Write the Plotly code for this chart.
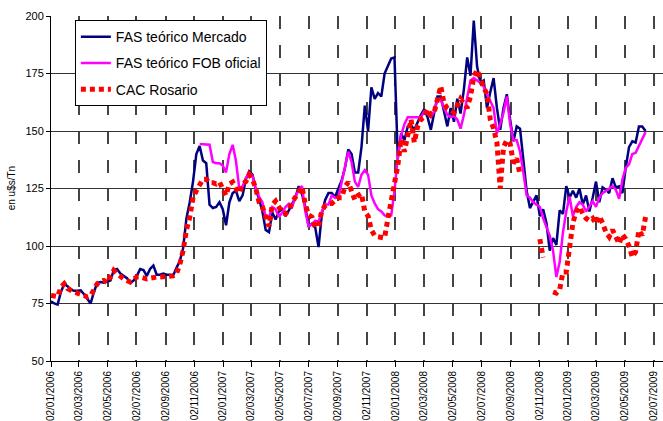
import pandas as pd
import plotly.graph_objects as go

# Weekly observations (Mondays) starting 02/01/2006
start_all = "2006-01-02"
fas_mercado = [
    76, 75, 74.5, 80, 83.5, 82.5, 81, 80.5, 80.5, 80.7,
    79, 77, 75, 80, 84, 84.3, 84, 84.5, 85, 89.5,
    90, 88, 87, 86, 84, 85, 87, 90, 89.5, 87,
    90, 91.5, 87.5, 87.5, 88, 87.5, 87.5, 87.2, 90.5, 93.5,
    99, 112, 119, 128, 140, 143.5, 137.2, 136, 118, 116.5,
    117, 119, 116, 109, 119, 123, 124, 119.5, 122, 129,
    132.5, 131, 124.5, 120.5, 115, 107, 106, 114.5, 111.5, 115,
    116, 113, 115.5, 118, 121, 126, 122.5, 117, 108.5, 109.7,
    108, 99.5, 114, 120, 123, 123, 121.3, 125, 128.5, 134,
    142, 140, 132, 132, 143, 161, 150, 169, 164, 166.5,
    165, 175, 178.5, 181.5, 182, 138, 149, 146, 152, 152.5,
    150.5, 154, 157, 159.5, 156, 150.5, 158, 165, 165, 158,
    152, 160, 154, 164, 157.6, 168, 182, 174, 198, 178,
    171, 172, 160, 167, 173, 160, 150.5, 160, 166, 155,
    145.5, 152, 151, 137.5, 124, 116.5, 119, 122, 113, 116,
    110, 98, 103.5, 100.5, 115.5, 114, 126, 121, 124, 121,
    125, 118, 122, 115, 121, 128, 119, 125.5, 124.5, 123,
    129.5, 125.5, 126, 123, 134, 143, 145.5, 145, 152, 152,
    150,
]

start_fob = "2006-11-13"
fas_fob = [
    144.3, 144.3, 144.3, 144, 136.5,
    136, 136, 135, 132, 140, 144, 137, 125, 126, 129.5,
    132, 130.5, 125, 121.5, 119, 112.6, 112.6, 117, 116, 112.6,
    114.5, 117, 118.4, 117, 121.3, 124.5, 126, 115, 108.5, 109.5,
    111, 110.5, 115, 118, 118, 122, 121, 121, 128, 135,
    141, 136.5, 128, 125.7, 131, 133, 131, 122, 118.5, 116,
    115, 113.3, 113, 113.3, 124, 139, 148, 153, 156, 156,
    156, 156, 156, 158.5, 157.5, 156, 158.5, 163.5, 163.5, 160,
    157, 156, 156.5, 155, 151, 157, 164, 172, 173, 172,
    171, 169.2, 166, 163.5, 160, 149, 153, 158, 165, 153,
    146, 146, 141, 132, 122, 121, 119, 118, 117, 112,
    108.2, 104.5, 98, 86.5, 93, 106, 115, 121.5, 113, 117,
    119, 118, 115, 117.5, 119.5, 117, 121, 123, 124, 125,
    126, 124.5, 120.5, 129, 134, 135.5, 140, 140.5, 143.5, 146,
    149.5,
]

cac_rosario = [
    78.5, 78, 78, 82, 83.6, 81.5, 80.5, 80, 79.5, 79.2,
    78.5, 77.8, 78.5, 81, 83.6, 84.5, 85, 84, 86.5, 89.4,
    88, 86.5, 85.7, 85, 84.3, 85.5, 86.5, 86.5, 86, 85.7,
    86, 86.5, 86.5, 86.5, 86.5, 87, 86.5, 87, 88, 92,
    98, 107, 112.5, 121, 124, 127, 129, 129, 127.5, 127.5,
    127, 127.8, 125, 122, 127, 127.8, 125, 123, 127, 128,
    131, 129, 125, 119, 117, 113, 108.5, 118, 119.5, 117,
    114.5, 114, 115.5, 119, 121.5, 124.2, 125.7, 118, 113.5, 112.6,
    108.2, 108.5, 115.5, 117.5, 118.4, 118.5, 120, 121, 121, 125.7,
    127.8, 124, 120, 122, 122.8, 115, 113, 107, 104.5, 104,
    104, 103.5, 112, 119, 126, 135, 146.5, 141, 148, 155,
    145, 152, 155, 156, 159.5, 157, 158, 165, 169.5, 162,
    159.8, 159, 158, 161, 164, 162, 160, 165, 173.6, 176.5,
    172, 169, 166, 155, 151, 145, 125, 143, 146, 144.5,
    136, 138, 131, None, None, None, None, None, 103, 95,
    None, None, 80, 79.5, 81, 88.7, 88.7, 98, 110, 115,
    117, 114, 112, 111, 112, 109.7, 113, 110, 106, 104,
    107, 104, 101, 105, 103, 100, 95.2, 97.5, 106.8, 104.6,
    112.6,
]

tick_dates = [
    "2006-01-02", "2006-03-02", "2006-05-02", "2006-07-02", "2006-09-02", "2006-11-02",
    "2007-01-02", "2007-03-02", "2007-05-02", "2007-07-02", "2007-09-02", "2007-11-02",
    "2008-01-02", "2008-03-02", "2008-05-02", "2008-07-02", "2008-09-02", "2008-11-02",
    "2009-01-02", "2009-03-02", "2009-05-02", "2009-07-02",
]
tick_labels = [pd.Timestamp(d).strftime("%d/%m/%Y") for d in tick_dates]
y_ticks = [50, 75, 100, 125, 150, 175, 200]
y_title = "en u$s/Tn"

dates_all = pd.date_range(start_all, periods=len(fas_mercado), freq="7D")
dates_fob = pd.date_range(start_fob, periods=len(fas_fob), freq="7D")
dates_cac = pd.date_range(start_all, periods=len(cac_rosario), freq="7D")

FONT = "Liberation Sans, Arial, sans-serif"

fig = go.Figure()
fig.add_trace(go.Scatter(x=dates_all, y=fas_mercado, mode="lines",
                         name="FAS teórico Mercado", legendgroup="a",
                         line=dict(color="#000080", width=2.5)))
fig.add_trace(go.Scatter(x=dates_fob, y=fas_fob, mode="lines",
                         name="FAS teórico FOB oficial", legendgroup="b",
                         line=dict(color="#FF00FF", width=2.5)))
fig.add_trace(go.Scatter(x=dates_cac, y=cac_rosario, mode="lines",
                         name="CAC Rosario", legendgroup="c", connectgaps=False,
                         line=dict(color="#FF0000", width=5, dash="5px,4px")))

fig.update_layout(
    width=663, height=421,
    margin=dict(l=51, r=0, t=16, b=60),
    paper_bgcolor="white", plot_bgcolor="white",
    font=dict(family=FONT, size=12, color="black"),
    showlegend=True,
    legend=dict(x=0.039, y=0.988, xanchor="left", yanchor="top",
                bgcolor="white", bordercolor="black", borderwidth=1,
                font=dict(family=FONT, size=14, color="black"),
                tracegroupgap=5),
    xaxis=dict(type="date", range=["2006-01-02", "2009-07-22"], automargin=False,
               tickmode="array", tickvals=tick_dates, ticktext=tick_labels,
               tickangle=-90, tickfont=dict(size=10),
               showgrid=True, gridcolor="#444444", gridwidth=1.5,
               griddash="13px,15.7px",
               showline=True, linecolor="black", linewidth=1,
               ticks="outside", ticklen=5, tickcolor="black", zeroline=False),
    yaxis=dict(range=[50, 200], tickmode="array", tickvals=y_ticks, automargin=False,
               tickfont=dict(size=11),
               showgrid=True, gridcolor="#333333", gridwidth=1,
               showline=True, linecolor="black", linewidth=1,
               ticks="outside", ticklen=4, tickcolor="black", zeroline=False),
    annotations=[dict(text=y_title, xref="paper", yref="paper",
                      x=-0.064, y=0.5, xanchor="center", yanchor="middle",
                      textangle=-90, showarrow=False,
                      font=dict(family=FONT, size=10, color="black"))],
)

fig.write_html("out.html", config={"displayModeBar": False},
               post_script="document.body.style.margin='0';")
